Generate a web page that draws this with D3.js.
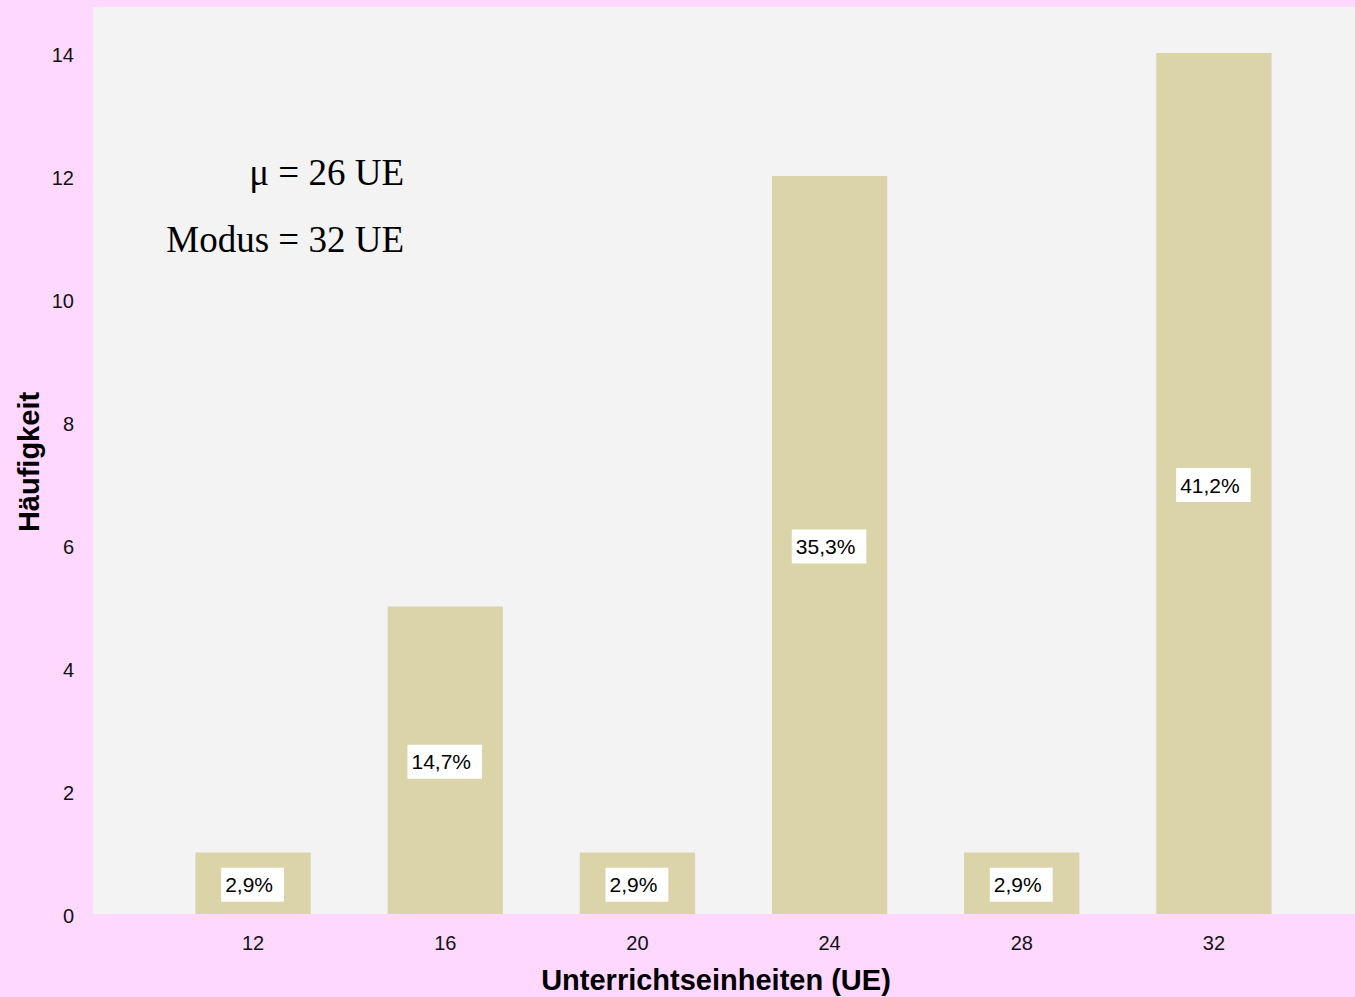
<!DOCTYPE html>
<html><head><meta charset="utf-8">
<script src="https://cdn.jsdelivr.net/npm/d3@7"></script>
<style>html,body{margin:0;padding:0;background:#FFD8FF;}svg{display:block}</style>
</head><body>
<svg id="chart" width="1355" height="997"></svg>
<script>
const categories = ["12", "16", "20", "24", "28", "32"];
const counts = [1, 5, 1, 12, 1, 14];
const percentLabels = ["2,9%", "14,7%", "2,9%", "35,3%", "2,9%", "41,2%"];
const yTicks = [0, 2, 4, 6, 8, 10, 12, 14];
const annotations = ["μ = 26 UE", "Modus = 32 UE"];

const W = 1355, H = 997;
const plot = {left: 93, right: 1355, top: 7, bottom: 914};
const svg = d3.select("#chart");
svg.append("rect").attr("width", W).attr("height", H).attr("fill", "#FFD8FF");
svg.append("rect").attr("x", plot.left).attr("y", plot.top)
  .attr("width", plot.right - plot.left).attr("height", plot.bottom - plot.top).attr("fill", "#F3F3F3");

const x = d3.scaleBand().domain(categories).range([157, 1310]).paddingInner(0.4).paddingOuter(0.2);
const y = d3.scaleLinear().domain([0, 14]).range([plot.bottom, 53]);

svg.selectAll("rect.bar").data(categories).enter().append("rect")
  .attr("class", "bar")
  .attr("x", d => x(d)).attr("width", x.bandwidth())
  .attr("y", (d, i) => y(counts[i])).attr("height", (d, i) => y(0) - y(counts[i]))
  .attr("fill", "#DBD4A8");

// labels
const lab = svg.selectAll("g.lab").data(categories).enter().append("g").attr("class", "lab");
lab.each(function(d, i) {
  const g = d3.select(this);
  const cx = x(d) + x.bandwidth() / 2 - 4;
  const cy = y(counts[i] / 2) + 1.5;
  const t = g.append("text").attr("x", cx).attr("y", cy).attr("text-anchor", "middle")
    .attr("dominant-baseline", "central")
    .style("font-family", "Arial, 'Liberation Sans', sans-serif").style("font-size", "21px")
    .attr("fill", "#000").text(percentLabels[i]);
  const bb = t.node().getBBox();
  g.insert("rect", "text").attr("x", bb.x - 4).attr("y", cy - 17)
    .attr("width", bb.width + 15).attr("height", 34).attr("fill", "#fff");
});

// y axis
const yAxis = d3.axisLeft(y).tickValues(yTicks).tickSize(0).tickPadding(0);
const ya = svg.append("g").attr("transform", "translate(74,2)").call(yAxis);
ya.select(".domain").remove();
ya.selectAll("text").style("font-family", "Arial, 'Liberation Sans', sans-serif").style("font-size", "20px").attr("fill", "#111");

// x axis
const xAxis = d3.axisBottom(x).tickSize(0).tickPadding(0);
const xa = svg.append("g").attr("transform", "translate(0,936)").call(xAxis);
xa.select(".domain").remove();
xa.selectAll("text").style("font-family", "Arial, 'Liberation Sans', sans-serif").style("font-size", "20px").attr("fill", "#111");

// titles
svg.append("text").attr("x", 716).attr("y", 990).attr("text-anchor", "middle")
  .style("font-family", "Arial, 'Liberation Sans', sans-serif").style("font-size", "29px").style("font-weight", "bold")
  .text("Unterrichtseinheiten (UE)");
svg.append("text").attr("transform", "translate(39,462) rotate(-90)").attr("text-anchor", "middle")
  .style("font-family", "Arial, 'Liberation Sans', sans-serif").style("font-size", "29px").style("font-weight", "bold")
  .text("Häufigkeit");

// annotations
const annY = [185, 252];
svg.selectAll("text.ann").data(annotations).enter().append("text").attr("class", "ann")
  .attr("x", 404).attr("y", (d, i) => annY[i]).attr("text-anchor", "end")
  .style("font-family", "'Liberation Serif', 'Times New Roman', serif").style("font-size", "37px")
  .text(d => d);
</script>
</body></html>
